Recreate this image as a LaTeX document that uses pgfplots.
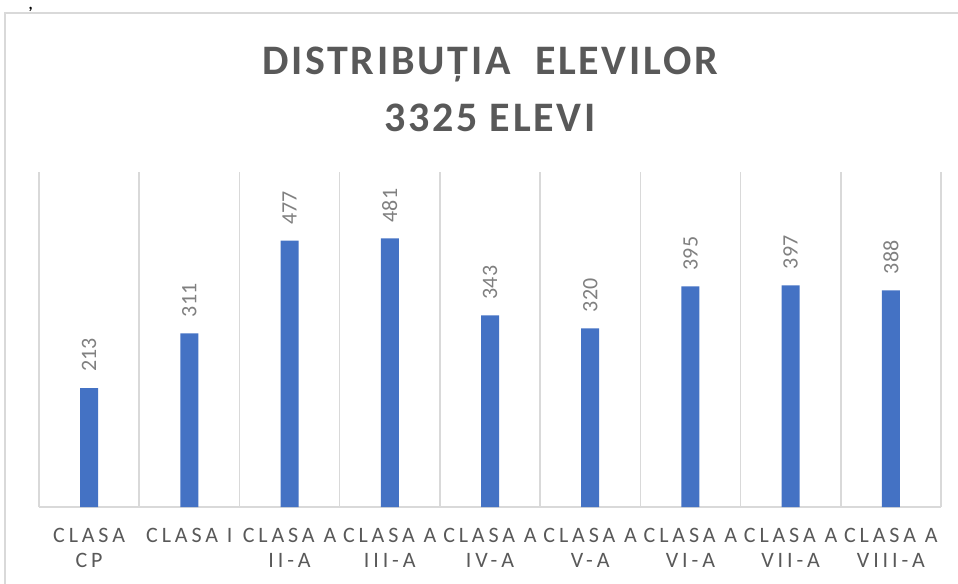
\documentclass[border=0pt]{standalone}
\usepackage{fontspec}
\setmainfont{Carlito}
\newfontfamily\titlefont[LetterSpace=6.5]{Carlito}
\newfontfamily\catfont[LetterSpace=17.6]{Carlito}
\usepackage{pgfplots}
\pgfplotsset{compat=1.18}
\definecolor{barblue}{HTML}{4472C4}
\definecolor{gridgray}{HTML}{D9D9D9}
\definecolor{txtgray}{HTML}{595959}
\definecolor{valgray}{HTML}{808080}
\begin{document}
\begin{tikzpicture}
\path[use as bounding box] (0,0) rectangle (718.5pt,437.25pt);
\draw[gridgray, line width=1.1pt] (3.75pt,-2pt) -- (3.75pt,427.5pt) -- (722pt,427.5pt);
\node[font={\bfseries\fontsize{12}{12}\selectfont}, anchor=base, inner sep=0pt] at (23pt,430pt) {,};
\node[font={\titlefont\bfseries\fontsize{31.5}{36}\selectfont}, text=txtgray, anchor=base, inner sep=0pt] at (367.5pt,381pt) {DISTRIBUȚIA\ \ ELEVILOR};
\node[font={\titlefont\bfseries\fontsize{31.5}{36}\selectfont}, text=txtgray, anchor=base, inner sep=0pt] at (367.5pt,338.5pt) {3325 ELEVI};
\begin{axis}[
  at={(29.25pt,57pt)}, anchor=south west,
  scale only axis, width=676.5pt, height=251.25pt,
  xmin=-0.5, xmax=8.5, ymin=0, ymax=600,
  axis x line*=bottom, axis y line=none,
  x axis line style={draw=gridgray, line width=1.1pt},
  xtick={0,...,8},
  xticklabels={{CLASA\\CP},{CLASA I},{CLASA A\\II-A},{CLASA A\\III-A},{CLASA A\\IV-A},{CLASA A\\V-A},{CLASA A\\VI-A},{CLASA A\\VII-A},{CLASA A\\VIII-A}},
  xticklabel style={align=center, text=txtgray, font={\catfont\fontsize{16.5}{18.6}\selectfont}, inner sep=0pt, yshift=-15.5pt},
  major tick length=0pt, minor tick length=0pt,
  minor xtick={-0.5,0.5,...,8.5},
  xminorgrids=true, xmajorgrids=false,
  minor grid style={draw=gridgray, line width=1.1pt},
  ytick=\empty,
  ybar, bar width=13.5pt,
  /pgf/number format/assume math mode=true,
  nodes near coords,
  every node near coord/.append style={font={\fontsize{16.5}{18}\selectfont}, text=valgray, rotate=90, anchor=west, inner xsep=12pt, inner ysep=0pt},
  clip=false,
]
\addplot[fill=barblue, draw=none] coordinates {(0,213) (1,311) (2,477) (3,481) (4,343) (5,320) (6,395) (7,397) (8,388)};
\end{axis}
\end{tikzpicture}
\end{document}
